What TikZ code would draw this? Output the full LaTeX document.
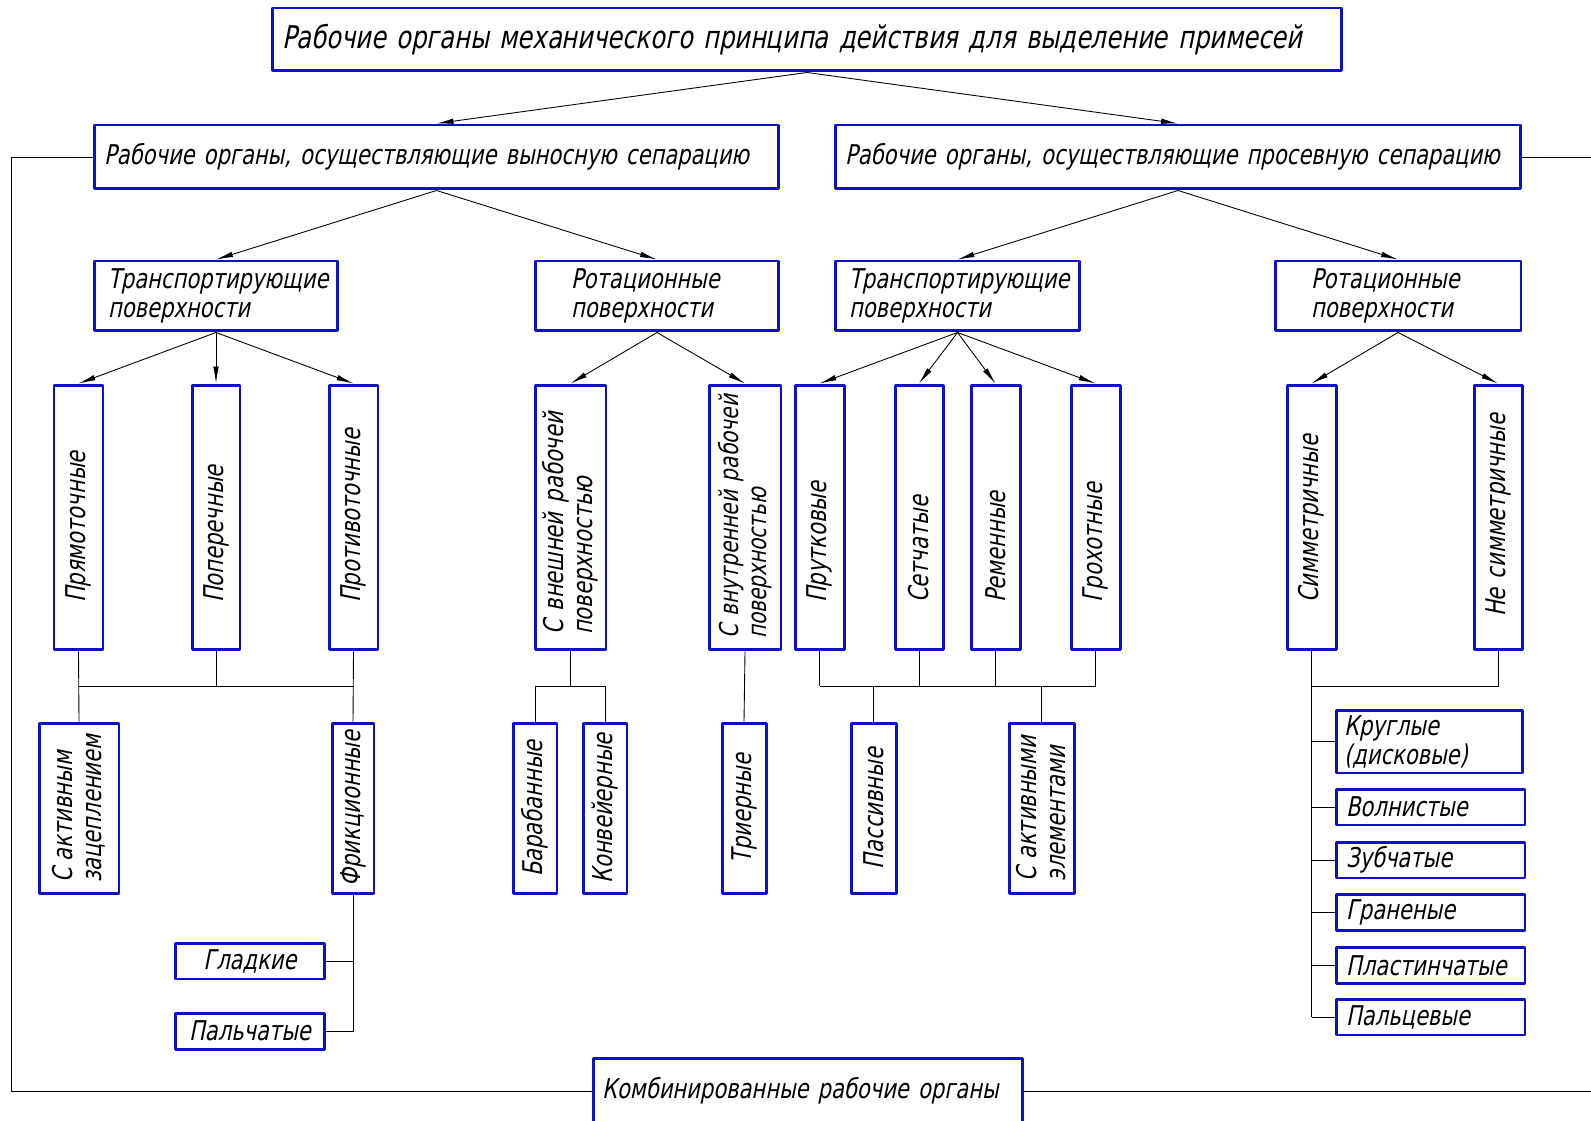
\documentclass[tikz,border=0pt]{standalone}
\usepackage{fontspec}
\newfontfamily\gostfont{DejaVu Sans Condensed}[FakeSlant=0.2, FakeStretch=0.86]
\usetikzlibrary{arrows.meta,calc}
\definecolor{boxblue}{RGB}{15,15,200}

\begin{document}
\begin{tikzpicture}[x=0.02cm, y=-0.02cm, >={Latex[length=3.4mm,width=1.1mm]}, line join=round,
	blk/.style={draw=boxblue, line width=1.7pt, inner ysep=0pt, font=\gostfont\fontsize{15.5}{16.5}\selectfont},
	hb/.style={blk, align=left},
	hc/.style={blk, align=center},
	vb/.style={blk, rotate=90, align=left, inner xsep=0.94cm, text width=3.42cm, minimum width=5.3cm},
	vc/.style={blk, rotate=90, align=left, minimum width=3.42cm},
	sb/.style={hb, minimum width=3.78cm, minimum height=0.72cm, inner xsep=0.2cm, text width=3.38cm},
	link/.style={draw=black, line width=0.5pt},
	arr/.style={link, ->}]
	
	\useasboundingbox (0,0) rectangle (1591,1121);
	
	% top levels
	\node[hb, minimum width=21.4cm, minimum height=1.26cm, inner xsep=0.2cm, text width=21cm, font=\gostfont\fontsize{17.8}{20}\selectfont] (top) at (807,39.5) {Рабочие~органы~механического~принципа~действия~для~выделение~примесей};
	\node[hb, minimum width=13.7cm, minimum height=1.28cm, inner xsep=0.2cm, text width=13.3cm] (vyn) at (436.5,157) {Рабочие органы, осуществляющие выносную сепарацию};
	\node[hb, minimum width=13.72cm, minimum height=1.28cm, inner xsep=0.2cm, text width=13.32cm] (pros) at (1178,157) {Рабочие органы, осуществляющие просевную сепарацию};
	
	% surfaces
	\node[hb, minimum width=4.88cm, minimum height=1.4cm, inner xsep=0.28cm, text width=4.32cm] (transL) at (216,296) {Транспортирующие\\поверхности};
	\node[hb, minimum width=4.88cm, minimum height=1.4cm, inner xsep=0.72cm, text width=3.44cm] (rotL) at (657,296) {Ротационные\\поверхности};
	\node[hb, minimum width=4.9cm, minimum height=1.4cm, inner xsep=0.28cm, text width=4.34cm] (transR) at (957.5,296) {Транспортирующие\\поверхности};
	\node[hb, minimum width=4.92cm, minimum height=1.4cm, inner xsep=0.72cm, text width=3.48cm] (rotR) at (1398,296) {Ротационные\\поверхности};
	
	% vertical boxes, row 4
	\node[vb, minimum height=0.98cm] (pryam) at (78.5,517.5) {Прямоточные};
	\node[vb, minimum height=0.96cm] (poper) at (216,517.5) {Поперечные};
	\node[vb, minimum height=0.98cm] (protiv) at (353.5,517.5) {Противоточные};
	\node[vb, minimum height=1.42cm, inner xsep=0.3cm, text width=4.7cm] (vnesh) at (570.5,517.5) {С~внешней~рабочей\\поверхностью};
	\node[vb, minimum height=1.44cm, inner xsep=0.22cm, text width=4.86cm, font=\gostfont\fontsize{14.8}{16}\selectfont] (vnutr) at (745,517.5) {С~внутренней~рабочей\\поверхностью};
	\node[vb, minimum height=0.98cm] (prut) at (819.5,517.5) {Прутковые};
	\node[vb, minimum height=0.96cm] (setch) at (919,517.5) {Сетчатые};
	\node[vb, minimum height=0.98cm] (remen) at (995.5,517.5) {Ременные};
	\node[vb, minimum height=0.98cm] (groh) at (1095.5,517.5) {Грохотные};
	\node[vb, minimum height=0.98cm] (simm) at (1311.5,517.5) {Симметричные};
	\node[vb, minimum height=0.96cm, inner xsep=0.66cm, text width=3.98cm] (nesimm) at (1498,517.5) {Не~симметричные};
	
	% vertical boxes, row 5
	\node[vc, minimum height=1.6cm] (aktzac) at (79,808.5) {С активным\\зацеплением};
	\node[vc, minimum height=0.84cm] (frikc) at (353,808.5) {Фрикционные};
	\node[vc, minimum height=0.88cm] (baraban) at (535,808.5) {Барабанные};
	\node[vc, minimum height=0.88cm] (konv) at (605,808.5) {Конвейерные};
	\node[vc, minimum height=0.88cm] (trier) at (744,808.5) {Триерные};
	\node[vc, minimum height=0.9cm] (passiv) at (873.5,808.5) {Пассивные};
	\node[vc, minimum height=1.3cm] (aktel) at (1041.5,808.5) {С активными\\элементами};
	
	% side boxes
	\node[hc, minimum width=3cm, minimum height=0.72cm] (gladk) at (250,961) {Гладкие};
	\node[hc, minimum width=3cm, minimum height=0.72cm] (palch) at (250,1031) {Пальчатые};
	\node[hb, minimum width=3.72cm, minimum height=1.26cm, inner xsep=0.16cm, text width=3.4cm] (krugl) at (1429,741.5) {Круглые\\(дисковые)};
	\node[sb] (voln) at (1430.5,807) {Волнистые};
	\node[sb] (zub) at (1430.5,860) {Зубчатые};
	\node[sb] (gran) at (1430.5,912.5) {Граненые};
	\node[sb] (plast) at (1430.5,965.5) {Пластинчатые};
	\node[sb] (palc) at (1430.5,1017) {Пальцевые};
	
	\node[hb, minimum width=8.6cm, minimum height=1.32cm, inner xsep=0.18cm, text width=8.24cm] (komb) at (808,1091) {Комбинированные рабочие органы};
	
	\coordinate (busy) at (0,686);
	\coordinate (frameL) at (11,0);
	\coordinate (frameR) at (1600,0);
	
	% arrows
	\foreach \b in {vyn, pros} \draw[arr] (top.south) -- (\b.north);
	\foreach \b in {transL, rotL} \draw[arr] (vyn.south) -- (\b.north);
	\foreach \b in {transR, rotR} \draw[arr] (pros.south) -- (\b.north);
	\foreach \b in {pryam, poper, protiv} \draw[arr] (transL.south) -- (\b.east);
	\foreach \b in {vnesh, vnutr} \draw[arr] (rotL.south) -- (\b.east);
	\foreach \b in {prut, setch, remen, groh} \draw[arr] (transR.south) -- (\b.east);
	\foreach \b in {simm, nesimm} \draw[arr] (rotR.south) -- (\b.east);
	
	% buses
	\draw[link] (pryam.west) -- (aktzac.east);
	\draw[link] (poper.west) -- (poper.west |- busy);
	\draw[link] (pryam.west |- busy) -- (protiv.west |- busy);
	\draw[link] (protiv.west) -- (frikc.east);
	\draw[link] (frikc.west) |- (palch.east);
	\draw[link] (gladk.east) -- (gladk.east -| frikc.west);
	\draw[link] (vnesh.west) -- (vnesh.west |- busy);
	\draw[link] (baraban.east) |- (konv.east |- busy) -- (konv.east);
	\draw[link] (vnutr.west) -- (trier.east);
	\foreach \b in {prut, setch, remen, groh} \draw[link] (\b.west) -- (\b.west |- busy);
	\draw[link] (prut.west |- busy) -- (groh.west |- busy);
	\draw[link] (passiv.east) -- (passiv.east |- busy);
	\draw[link] (aktel.east) -- (aktel.east |- busy);
	\draw[link] (nesimm.west) |- (simm.west |- busy);
	\draw[link] (simm.west) -- (simm.west |- palc.west);
	\foreach \b in {krugl, voln, zub, gran, plast, palc} \draw[link] (simm.west |- \b.west) -- (\b.west);
	
	% frame to combined
	\draw[link] (vyn.west) -| (frameL |- komb.west) -- (komb.west);
	\draw[link] (pros.east) -- (pros.east -| frameR);
	\draw[link] (komb.east) -- (komb.east -| frameR);
	
\end{tikzpicture}
\end{document}
